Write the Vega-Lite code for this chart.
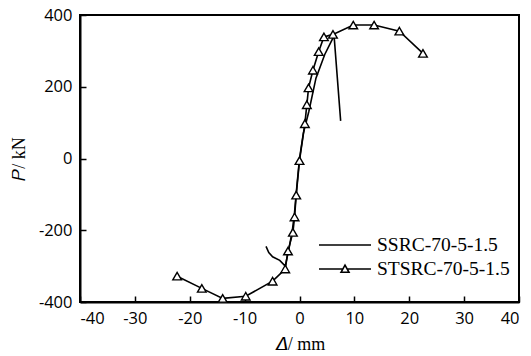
{
  "$schema": "https://vega.github.io/schema/vega-lite/v6.json",
  "autosize": {"type": "none"},
  "width": 439,
  "height": 287,
  "padding": {"left": 80, "top": 15, "right": 12, "bottom": 54},
  "background": "white",
  "config": {
    "view": {"stroke": "black", "strokeWidth": 2},
    "axis": {
      "grid": false,
      "domainColor": "black",
      "domainWidth": 2,
      "tickColor": "black",
      "tickWidth": 1.5,
      "labelColor": "black",
      "labelFont": "Open Sans",
      "labelFontSize": 16.5,
      "labelExpr": "replace(datum.label, '−', '-')",
      "titleColor": "black",
      "titleFont": "Liberation Serif",
      "titleFontSize": 18,
      "titleFontWeight": "normal"
    }
  },
  "datasets": {
    "ssrc": [
      {"series": "SSRC-70-5-1.5", "i": 1, "d": -6.1, "p": -245},
      {"series": "SSRC-70-5-1.5", "i": 2, "d": -5.6, "p": -262},
      {"series": "SSRC-70-5-1.5", "i": 3, "d": -4.9, "p": -274},
      {"series": "SSRC-70-5-1.5", "i": 4, "d": -3.6, "p": -284},
      {"series": "SSRC-70-5-1.5", "i": 5, "d": -2.6, "p": -300},
      {"series": "SSRC-70-5-1.5", "i": 6, "d": -1.9, "p": -250},
      {"series": "SSRC-70-5-1.5", "i": 7, "d": -1.3, "p": -200},
      {"series": "SSRC-70-5-1.5", "i": 8, "d": -0.9, "p": -150},
      {"series": "SSRC-70-5-1.5", "i": 9, "d": -0.5, "p": -80},
      {"series": "SSRC-70-5-1.5", "i": 10, "d": 0.0, "p": 0},
      {"series": "SSRC-70-5-1.5", "i": 11, "d": 0.7, "p": 70},
      {"series": "SSRC-70-5-1.5", "i": 12, "d": 1.7, "p": 131},
      {"series": "SSRC-70-5-1.5", "i": 13, "d": 3.0, "p": 224},
      {"series": "SSRC-70-5-1.5", "i": 14, "d": 4.6, "p": 290},
      {"series": "SSRC-70-5-1.5", "i": 15, "d": 6.3, "p": 342},
      {"series": "SSRC-70-5-1.5", "i": 16, "d": 7.5, "p": 105}
    ],
    "stsrc": [
      {"series": "STSRC-70-5-1.5", "i": 1, "d": -22.3, "p": -328},
      {"series": "STSRC-70-5-1.5", "i": 2, "d": -17.8, "p": -362},
      {"series": "STSRC-70-5-1.5", "i": 3, "d": -14.0, "p": -390},
      {"series": "STSRC-70-5-1.5", "i": 4, "d": -9.8, "p": -384},
      {"series": "STSRC-70-5-1.5", "i": 5, "d": -4.9, "p": -342},
      {"series": "STSRC-70-5-1.5", "i": 6, "d": -2.6, "p": -308},
      {"series": "STSRC-70-5-1.5", "i": 7, "d": -2.1, "p": -258},
      {"series": "STSRC-70-5-1.5", "i": 8, "d": -1.2, "p": -206},
      {"series": "STSRC-70-5-1.5", "i": 9, "d": -0.9, "p": -163},
      {"series": "STSRC-70-5-1.5", "i": 10, "d": -0.6, "p": -102},
      {"series": "STSRC-70-5-1.5", "i": 11, "d": 0.0, "p": -6},
      {"series": "STSRC-70-5-1.5", "i": 12, "d": 0.98, "p": 97},
      {"series": "STSRC-70-5-1.5", "i": 13, "d": 1.34, "p": 150},
      {"series": "STSRC-70-5-1.5", "i": 14, "d": 1.65, "p": 197},
      {"series": "STSRC-70-5-1.5", "i": 15, "d": 2.45, "p": 246},
      {"series": "STSRC-70-5-1.5", "i": 16, "d": 3.5, "p": 298},
      {"series": "STSRC-70-5-1.5", "i": 17, "d": 4.45, "p": 339},
      {"series": "STSRC-70-5-1.5", "i": 18, "d": 6.1, "p": 346},
      {"series": "STSRC-70-5-1.5", "i": 19, "d": 9.8, "p": 372},
      {"series": "STSRC-70-5-1.5", "i": 20, "d": 13.6, "p": 372},
      {"series": "STSRC-70-5-1.5", "i": 21, "d": 18.2, "p": 355},
      {"series": "STSRC-70-5-1.5", "i": 22, "d": 22.5, "p": 293}
    ]
  },
  "layer": [
    {
      "data": {"name": "ssrc"},
      "mark": {"type": "line", "strokeWidth": 1.6},
      "encoding": {
        "x": {"field": "d", "type": "quantitative"},
        "y": {"field": "p", "type": "quantitative"},
        "order": {"field": "i"},
        "color": {
          "field": "series", "type": "nominal",
          "scale": {"domain": ["SSRC-70-5-1.5", "STSRC-70-5-1.5"], "range": ["black", "black"]},
          "legend": {
            "title": null,
            "orient": "none",
            "legendX": 254,
            "legendY": 219,
            "symbolType": "M-2.6,0H2.6",
            "symbolSize": 400,
            "symbolStrokeWidth": 1.6,
            "symbolStrokeColor": "black",
            "symbolFillColor": "white",
            "labelFont": "Liberation Serif",
            "labelFontSize": 19.5,
            "labelColor": "black",
            "labelOffset": 21,
            "rowPadding": 3,
            "encode": {
              "symbols": {
                "update": {
                  "shape": {"signal": "datum.value === 'STSRC-70-5-1.5' ? 'M-2.6,0H-0.2M0.2,0H2.6M-0.4,0.33L0,-0.38L0.4,0.33Z' : 'M-2.6,0H2.6'"},
                  "fill": {"value": "white"},
                  "stroke": {"value": "black"}
                }
              }
            }
          }
        }
      }
    },
    {
      "data": {"name": "stsrc"},
      "mark": {"type": "line", "strokeWidth": 1.6},
      "encoding": {
        "x": {"field": "d", "type": "quantitative"},
        "y": {"field": "p", "type": "quantitative"},
        "order": {"field": "i"},
        "color": {"field": "series", "type": "nominal"}
      }
    },
    {
      "data": {"name": "stsrc"},
      "mark": {"type": "point", "shape": "triangle-up", "filled": true, "fill": "white", "stroke": "black", "strokeWidth": 1.4, "size": 75, "opacity": 1},
      "encoding": {
        "x": {
          "field": "d", "type": "quantitative",
          "scale": {"domain": [-40, 40], "nice": false, "zero": false},
          "axis": {"values": [-40, -30, -20, -10, 0, 10, 20, 30, 40], "tickSize": -6, "labelPadding": 14, "title": "𝛥/ mm", "titlePadding": 9}
        },
        "y": {
          "field": "p", "type": "quantitative",
          "scale": {"domain": [-400, 400], "nice": false, "zero": false},
          "axis": {"values": [-400, -300, -200, -100, 0, 100, 200, 300, 400], "tickSize": -6, "labelPadding": 14, "title": "𝑃/ kN", "titlePadding": 10}
        }
      }
    }
  ],
  "resolve": {"scale": {"color": "shared"}}
}
